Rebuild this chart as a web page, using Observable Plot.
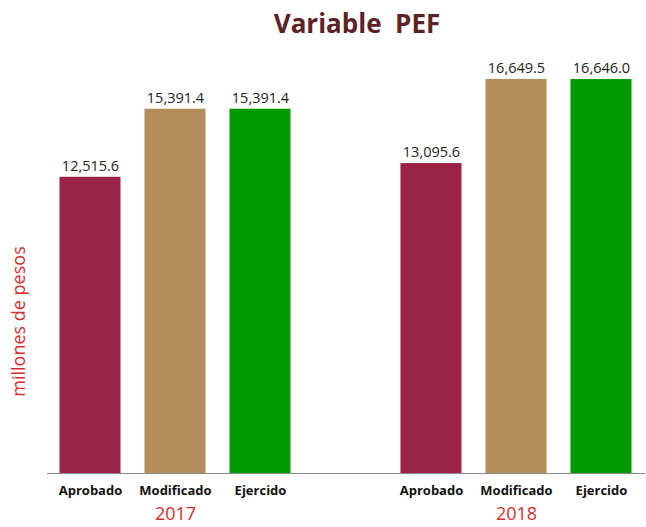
<!DOCTYPE html>
<html>
<head>
<meta charset="utf-8">
<script src="https://cdn.jsdelivr.net/npm/d3@7"></script>
<script src="https://cdn.jsdelivr.net/npm/@observablehq/plot@0.6"></script>
<style>
  html, body { margin: 0; padding: 0; background: #fff; }
  #wrap { width: 646px; font-family: "Open Sans", sans-serif; }
  #title { height: 47px; line-height: 47px; padding-left: 68px; text-align: center; font-size: 26px; font-weight: bold; color: #5b2327; white-space: pre; box-sizing: border-box; }
</style>
</head>
<body>
<div id="wrap">
  <div id="title">Variable  PEF</div>
  <div id="chart"></div>
</div>
<script>
const years = ["2017", "2018"];
const categories = ["Aprobado", "Modificado", "Ejercido"];
const values2017 = [12515.6, 15391.4, 15391.4];
const values2018 = [13095.6, 16649.5, 16646.0];
const colors = ["#9C2449", "#B38E5D", "#009A00"];
const yLabel = "millones de pesos";

const data = [];
[values2017, values2018].forEach((vals, i) => {
  vals.forEach((v, j) => data.push({year: years[i], category: categories[j], value: v}));
});
const fmt = d3.format(",.1f");

const chart = Plot.plot({
  width: 646,
  height: 480,
  marginLeft: 33,
  marginRight: 0,
  marginTop: 0,
  marginBottom: 54,
  style: {fontFamily: "'Open Sans', sans-serif", background: "#fff"},
  fx: {domain: years, paddingInner: 0.25, paddingOuter: 0.02385, align: 0.868, round: false, label: null},
  x: {domain: categories, paddingInner: 0.282, paddingOuter: 0.1454, round: false, label: null},
  y: {domain: [0, 18000], axis: null},
  color: {domain: categories, range: colors},
  marks: [
    Plot.barY(data, {fx: "year", x: "category", y: "value", fill: "category"}),
    Plot.text(data, {fx: "year", x: "category", y: "value", text: d => fmt(d.value), dy: -11, fontSize: 14.5, fill: "#222"}),
    Plot.frame({facet: "super", anchor: "bottom", stroke: "#8a8a8a", strokeWidth: 1.2}),
    Plot.axisX({tickSize: 0, tickPadding: 12, fontSize: 13, fontWeight: "bold", label: null, color: "#111"}),
    Plot.axisFx({anchor: "bottom", tickSize: 0, tickPadding: 34, fontSize: 18, label: null, color: "#d3302f"}),
    Plot.text([yLabel], {facet: "super", frameAnchor: "left", textAnchor: "middle", rotate: -90, dx: -28, dy: 61, fontSize: 18, fill: "#d3302f"})
  ]
});
document.getElementById("chart").appendChild(chart);
</script>
</body>
</html>
